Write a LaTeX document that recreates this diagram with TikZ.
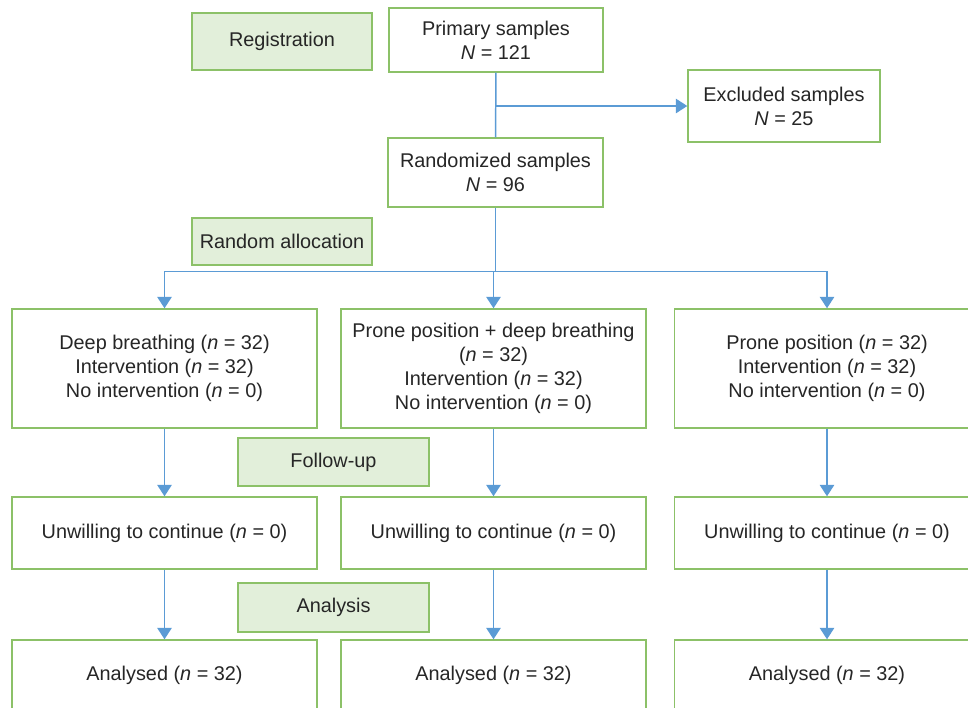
\documentclass[tikz,border=0pt]{standalone}
\usepackage{fontspec}
\setmainfont{Liberation Sans}
\usepackage{tikz}
\usetikzlibrary{positioning,arrows.meta,calc}
\definecolor{flowgreen}{HTML}{8CC168}
\definecolor{flowpanel}{HTML}{E2EFDA}
\definecolor{flowblue}{HTML}{5B9BD5}
\definecolor{flowtext}{HTML}{262626}
\newcommand{\nval}[1]{(\textit{n} = #1)}

\begin{document}
\begin{tikzpicture}[x=0.2mm,y=-0.2mm,
  box/.style={draw=flowgreen,line width=0.8pt,fill=white,align=center,text=flowtext,inner sep=0pt,font=\fontsize{11.3}{13.7}\selectfont},
  stage/.style={box,fill=flowpanel,minimum width=36mm},
  group/.style={box,minimum width=61mm,minimum height=23.8mm},
  drop/.style={box,minimum width=61mm,minimum height=14.4mm},
  result/.style={box,minimum width=61mm,minimum height=14mm},
  link/.style={flowblue,line width=0.85pt},
  pipe/.style={link,-{Triangle[length=2.3mm,width=2.9mm]}}
]
\useasboundingbox (0,0) rectangle (968,708);
\clip (0,0) rectangle (968,708);

\node[stage,minimum height=11.4mm] (reg) at (282,41.5) {Registration};
\node[box,minimum width=42.8mm,minimum height=12.8mm] (prim) at (496,40) {Primary samples\\\textit{N} = 121};
\node[box,minimum width=38.4mm,minimum height=14.4mm] (excl) at (784,106) {Excluded samples\\\textit{N} = 25};
\node[box,minimum width=43mm,minimum height=13.8mm] (rand) at (495.5,172.5) {Randomized samples\\\textit{N} = 96};
\node[stage,minimum height=9.4mm] (alloc) at (282,241.5) {Random allocation};

\node[group] (a1) at (164.5,368.5) {Deep breathing \nval{32}\\Intervention \nval{32}\\No intervention \nval{0}};
\node[group] (b1) at (493.5,368.5) {Prone position + deep breathing\\\nval{32}\\Intervention \nval{32}\\No intervention \nval{0}};
\node[group] (c1) at (827,368.5) {Prone position \nval{32}\\Intervention \nval{32}\\No intervention \nval{0}};

\node[stage,minimum width=38.2mm,minimum height=9.6mm] (follow) at (333.5,462) {Follow-up};

\node[drop] (a2) at (164.5,533) {Unwilling to continue \nval{0}};
\node[drop] (b2) at (493.5,533) {Unwilling to continue \nval{0}};
\node[drop] (c2) at (827,533) {Unwilling to continue \nval{0}};

\node[stage,minimum width=38.2mm,minimum height=9.8mm] (anal) at (333.5,607.5) {Analysis};

\node[result] (a3) at (164.5,675) {Analysed \nval{32}};
\node[result] (b3) at (493.5,675) {Analysed \nval{32}};
\node[result] (c3) at (827,675) {Analysed \nval{32}};

% connectors
\coordinate (split) at (495.5,271.5);
\draw[link] (prim) -- (rand);
\draw[pipe] (prim.south |- excl.west) -- (excl.west);
\draw[link] (rand) -- (split);
\draw[pipe] (split) -| (a1);
\draw[pipe] (split) -| (c1);
\draw[pipe] (split -| b1) -- (b1);
\foreach \col in {a,b,c} {
  \draw[pipe] (\col1) -- (\col2);
  \draw[pipe] (\col2) -- (\col3);
}
\end{tikzpicture}
\end{document}
